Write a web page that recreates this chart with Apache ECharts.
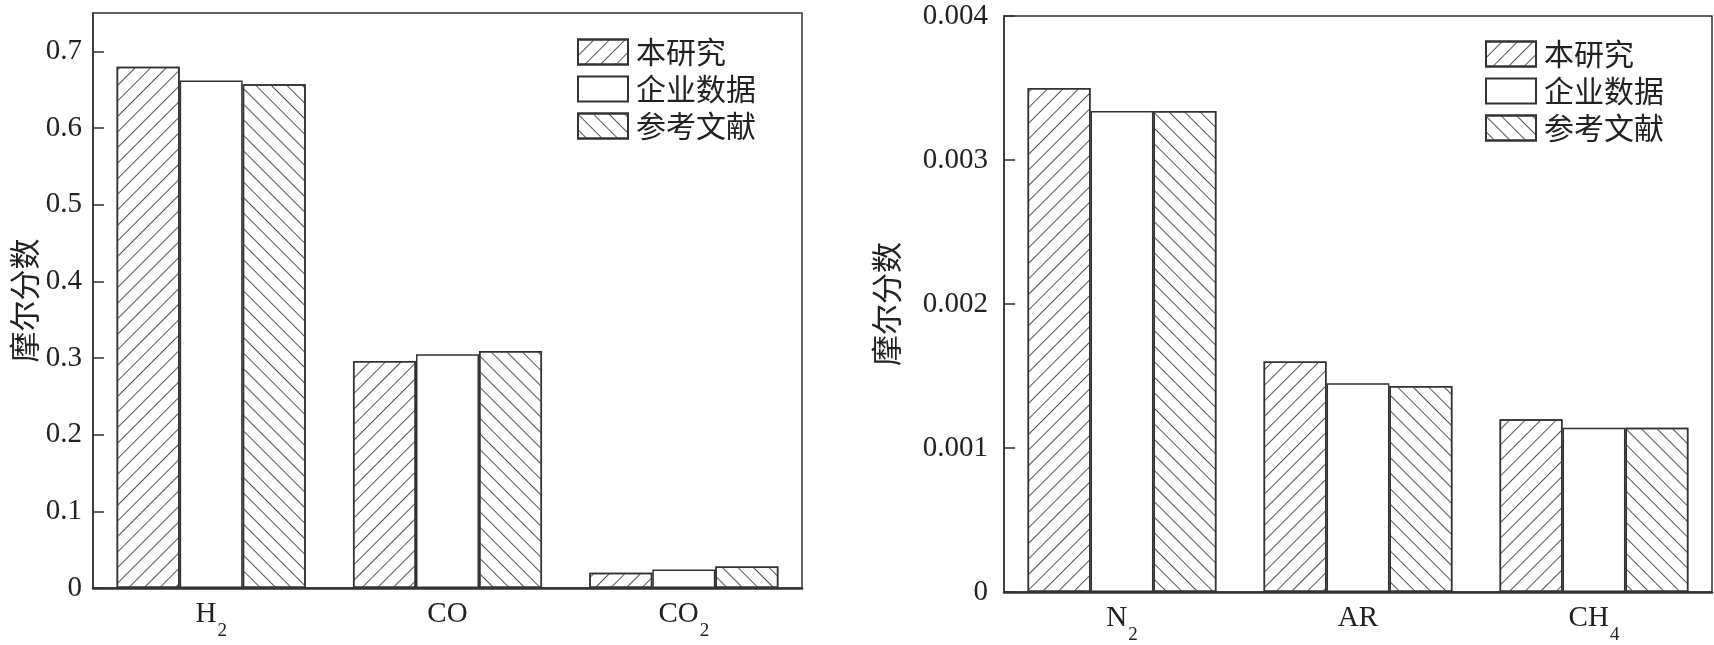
<!DOCTYPE html>
<html>
<head>
<meta charset="utf-8">
<script src="https://cdn.jsdelivr.net/npm/echarts@6/dist/echarts.min.js"></script>
<style>
  html, body { margin: 0; padding: 0; background: #fff; }
  #main { width: 1714px; height: 645px; }
</style>
</head>
<body>
<div id="main"></div>
<script>
  // 数据
  var seriesNames = ['本研究', '企业数据', '参考文献'];
  var catsLeft = ['H2', 'CO', 'CO2'];
  var leftStudy = [0.680, 0.296, 0.020];
  var leftCompany = [0.662, 0.305, 0.024];
  var leftRef = [0.657, 0.309, 0.028];
  var catsRight = ['N2', 'AR', 'CH4'];
  var rightStudy = [0.00350, 0.00160, 0.00120];
  var rightCompany = [0.00334, 0.00145, 0.00114];
  var rightRef = [0.00334, 0.00143, 0.00114];

  var ink = '#222';
  var serif = 'Liberation Serif, Noto Sans CJK SC';
  var cjk = 'Noto Sans CJK SC';

  // 斜线填充
  var hatchRight = { symbol: 'rect', color: '#555', dashArrayX: [1, 0], dashArrayY: [1, 10], rotation: -Math.PI / 4 };
  var hatchLeft = { symbol: 'rect', color: '#555', dashArrayX: [1, 0], dashArrayY: [1, 10], rotation: Math.PI / 4 };
  var styles = [
    { color: '#fff', borderColor: '#333', borderWidth: 1.5, decal: hatchRight },
    { color: '#fff', borderColor: '#333', borderWidth: 1.5 },
    { color: '#fff', borderColor: '#333', borderWidth: 1.5, decal: hatchLeft }
  ];

  function subLabel(v) {
    return v.replace(/^(\D+)(\d?)$/, function (m, a, b) {
      return '{m|' + a + '}' + (b ? '{s|' + b + '}' : '');
    });
  }

  function xAx(idx, cats) {
    return {
      type: 'category', gridIndex: idx, data: cats,
      axisLine: { lineStyle: { color: '#333', width: 2.5 } },
      axisTick: { show: false },
      axisLabel: {
        margin: 12, fontSize: 29, fontFamily: serif, color: ink,
        formatter: subLabel,
        rich: {
          m: { fontSize: 29, fontFamily: serif, color: ink, lineHeight: 30, verticalAlign: 'top' },
          s: { fontSize: 19, fontFamily: serif, color: ink, lineHeight: 20, verticalAlign: 'top', padding: [22, 0, 0, 1] }
        }
      }
    };
  }

  function yAx(idx, max, interval, margin, gap, showMax) {
    return {
      type: 'value', gridIndex: idx, min: 0, max: max, interval: interval,
      name: '摩尔分数', nameLocation: 'middle', nameGap: gap,
      nameTextStyle: { fontSize: 31, fontFamily: cjk, color: ink },
      axisLine: { show: true, lineStyle: { color: '#333', width: 1.5 } },
      axisTick: { show: true, inside: true, length: 11, lineStyle: { color: '#333', width: 1.5 } },
      axisLabel: { margin: margin, fontSize: 29, fontFamily: serif, color: ink, showMaxLabel: showMax },
      splitLine: { show: false }
    };
  }

  function legendAt(left, top) {
    return {
      orient: 'vertical', left: left, top: top, padding: 0,
      itemWidth: 50, itemHeight: 25, itemGap: 7, icon: 'rect',
      data: seriesNames,
      textStyle: { fontSize: 30, fontFamily: cjk, color: ink, padding: [0, 0, 0, 3] }
    };
  }

  function bars(xi, data) {
    return data.map(function (d, i) {
      return {
        name: seriesNames[i], type: 'bar', xAxisIndex: xi, yAxisIndex: xi,
        data: d, barGap: '0%', barCategoryGap: '20%',
        itemStyle: styles[i], emphasis: { disabled: true }
      };
    });
  }

  var chart = echarts.init(document.getElementById('main'));
  chart.setOption({
    animation: false,
    grid: [
      { left: 93, top: 13, width: 709, height: 575, show: true, borderColor: '#333', borderWidth: 1.5 },
      { left: 1004, top: 16, width: 708, height: 576, show: true, borderColor: '#333', borderWidth: 1.5 }
    ],
    legend: [legendAt(577, 37), legendAt(1485, 39)],
    xAxis: [xAx(0, catsLeft), xAx(1, catsRight)],
    yAxis: [yAx(0, 0.75, 0.1, 11, 53, false), yAx(1, 0.004, 0.001, 16, 102, true)],
    series: bars(0, [leftStudy, leftCompany, leftRef]).concat(
      bars(1, [rightStudy, rightCompany, rightRef]))
  });
</script>
</body>
</html>
